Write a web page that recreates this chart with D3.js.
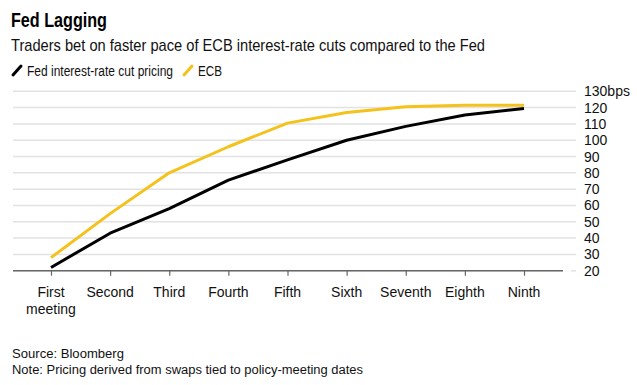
<!DOCTYPE html>
<html><head><meta charset="utf-8">
<script src="https://cdn.jsdelivr.net/npm/d3@7"></script>
<style>
body{margin:0;background:#fff;}
svg{display:block;font-family:"Liberation Sans",Arial,sans-serif;}
</style></head>
<body><svg id="c" width="637" height="385"></svg>
<script>
const categories = ["First\nmeeting","Second","Third","Fourth","Fifth","Sixth","Seventh","Eighth","Ninth"];
const fedValues = [22, 43, 58, 75.5, 88, 100, 108.5, 115.5, 119.5];
const ecbValues = [28, 55, 80, 96, 110.5, 117, 120.5, 121.5, 121.5];
const yTicks = [20,30,40,50,60,70,80,90,100,110,120,130];
const seriesNames = ["Fed interest-rate cut pricing","ECB"];
const colors = ["#000000","#f4c21a"];

const svg = d3.select("#c");
const x = d3.scalePoint().domain(categories).range([51,524]);
const y = d3.scaleLinear().domain([20,130]).range([270.7,91.3]);
const gridL = 13, gridR = 576, axisR = 563;

function fitText(sel, w){ sel.attr("textLength", w).attr("lengthAdjust","spacingAndGlyphs"); }

// Title
svg.append("text").attr("x",11).attr("y",26.5).attr("font-size",20).attr("font-weight","bold")
  .attr("fill","#000").text("Fed Lagging").call(fitText,96);
svg.append("text").attr("x",11).attr("y",50.5).attr("font-size",17).attr("fill","#111")
  .text("Traders bet on faster pace of ECB interest-rate cuts compared to the Fed").call(fitText,474);

// Legend
const leg = [{x:12,tx:27,w:146},{x:183,tx:198,w:24}];
seriesNames.forEach((n,i)=>{
  svg.append("line").attr("x1",leg[i].x+1).attr("y1",75).attr("x2",leg[i].x+9).attr("y2",66)
    .attr("stroke",colors[i]).attr("stroke-width",3).attr("stroke-linecap","round");
  svg.append("text").attr("x",leg[i].tx).attr("y",75.5).attr("font-size",14).attr("fill","#111")
    .text(n).call(fitText,leg[i].w);
});

// Gridlines
svg.append("g").selectAll("line").data(yTicks).join("line")
  .attr("x1",gridL).attr("x2",gridR).attr("y1",d=>y(d)).attr("y2",d=>y(d))
  .attr("stroke","#e2e2e2").attr("stroke-width",1.5);

// Y labels
svg.append("g").selectAll("text").data(yTicks).join("text")
  .attr("x",584).attr("y",d=>y(d)+5).attr("font-size",14).attr("fill","#111")
  .text(d=>d===130? d+"bps" : d);

// X axis
const xAxis = d3.axisBottom(x).tickSize(5).tickFormat("");
const gx = svg.append("g").attr("transform",`translate(0,${y(20)})`).call(xAxis);
gx.select(".domain").remove();
gx.selectAll(".tick line").attr("stroke","#666").attr("stroke-width",1.2);
svg.append("line").attr("x1",gridL).attr("x2",axisR).attr("y1",y(20)).attr("y2",y(20))
  .attr("stroke","#666").attr("stroke-width",1.5);
svg.append("line").attr("x1",axisR).attr("x2",571).attr("y1",y(20)).attr("y2",y(20))
  .attr("stroke","#fff").attr("stroke-width",2);

const xl = svg.append("g").selectAll("text").data(categories).join("text")
  .attr("x",d=>x(d)).attr("y",297).attr("font-size",14).attr("fill","#111").attr("text-anchor","middle");
xl.each(function(d){
  const parts = d.split("\n");
  const t = d3.select(this);
  parts.forEach((p,i)=>t.append("tspan").attr("x",x(d)).attr("dy",i?17:0).text(p));
});

// Lines
const line = d3.line().x((d,i)=>x(categories[i])).y(d=>y(d));
[fedValues, ecbValues].forEach((vals,i)=>{
  svg.append("path").datum(vals).attr("d",line).attr("fill","none")
    .attr("stroke",colors[i]).attr("stroke-width",3).attr("stroke-linejoin","round");
});
// draw ECB below Fed? keep order: Fed first then ECB on top

// Footer
svg.append("text").attr("x",12).attr("y",358).attr("font-size",12).attr("fill","#111")
  .text("Source: Bloomberg").call(fitText,112);
svg.append("text").attr("x",12).attr("y",374).attr("font-size",12).attr("fill","#111")
  .text("Note: Pricing derived from swaps tied to policy-meeting dates").call(fitText,351);
</script></body></html>
